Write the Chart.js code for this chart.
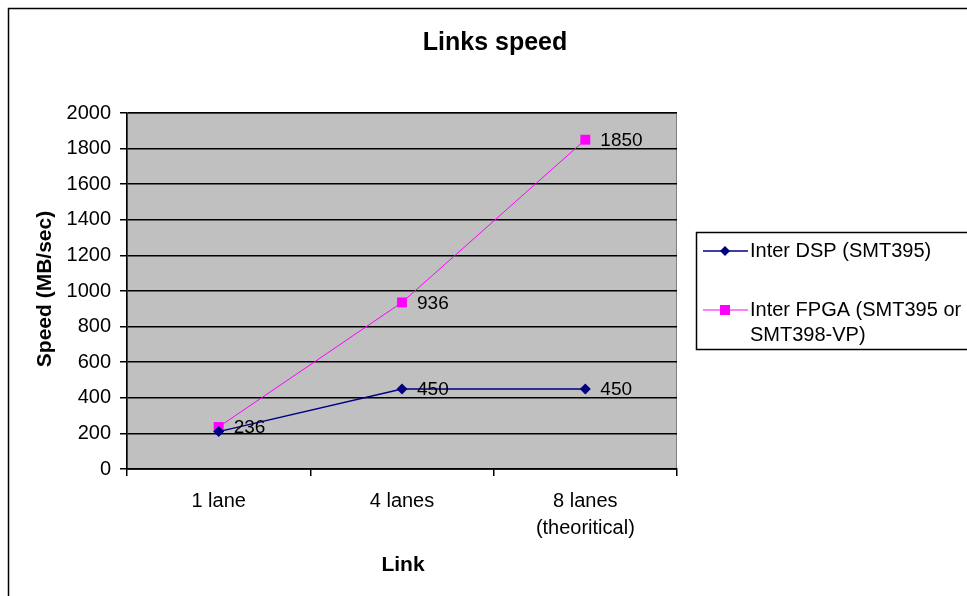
<!DOCTYPE html>
<html lang="en">
<head>
    <meta charset="UTF-8">
    <title>Links speed</title>
    <script src="https://cdn.jsdelivr.net/npm/chart.js"></script>
    <style>
        html, body { margin: 0; padding: 0; background: #fff; }
        #wrap { width: 967px; height: 596px; }
    </style>
</head>
<body>
    <div id="wrap"><canvas id="linksChart" width="967" height="596"></canvas></div>

    <script>
        const links = [["1 lane"], ["4 lanes"], ["8 lanes", "(theoritical)"]];
        const interDsp = [210, 450, 450];
        const interFpga = [236, 936, 1850];
        const seriesNames = [["Inter DSP (SMT395)"], ["Inter FPGA (SMT395 or", "SMT398-VP)"]];
        const yTicks = [0, 200, 400, 600, 800, 1000, 1200, 1400, 1600, 1800, 2000];

        const FONT = "'Liberation Sans', Arial, sans-serif";

        // grey plot area, outer frame, title and axis titles
        const excelLook = {
            id: 'excelLook',
            beforeDraw(chart) {
                const { ctx, chartArea: a } = chart;
                ctx.save();
                ctx.fillStyle = '#fff';
                ctx.fillRect(0, 0, chart.width, chart.height);
                ctx.strokeStyle = '#000';
                ctx.lineWidth = 1.5;
                ctx.strokeRect(8.5, 8.5, 1200, 1200);
                ctx.fillStyle = '#c0c0c0';
                ctx.fillRect(a.left, a.top, a.right - a.left, a.bottom - a.top);
                ctx.strokeStyle = '#808080';
                ctx.lineWidth = 1;
                ctx.strokeRect(a.left + 0.5, a.top + 0.5, a.right - a.left - 1, a.bottom - a.top);

                ctx.fillStyle = '#000';
                ctx.textAlign = 'center';
                ctx.textBaseline = 'middle';
                ctx.font = 'bold 25px ' + FONT;
                ctx.fillText('Links speed', 495, 43);
                ctx.font = 'bold 21px ' + FONT;
                ctx.fillText('Link', 403, 565);
                ctx.translate(45, 289);
                ctx.rotate(-Math.PI / 2);
                ctx.fillText('Speed (MB/sec)', 0, 0);
                ctx.restore();
            },
            afterDatasetsDraw(chart) {
                const { ctx } = chart;
                ctx.save();
                ctx.font = '19px ' + FONT;
                ctx.fillStyle = '#000';
                ctx.textAlign = 'left';
                ctx.textBaseline = 'middle';
                const drawn = [];
                for (let d = chart.data.datasets.length - 1; d >= 0; d--) {
                    const meta = chart.getDatasetMeta(d);
                    meta.data.forEach((pt, i) => {
                        const txt = String(chart.data.datasets[d].data[i]);
                        const x = pt.x + 15, y = pt.y + 1;
                        const w = ctx.measureText(txt).width;
                        const hit = drawn.some(r => x < r.x + r.w && x + w > r.x && Math.abs(y - r.y) < 16);
                        if (hit) return;
                        drawn.push({ x, y, w });
                        ctx.fillText(txt, x, y);
                    });
                }
                ctx.restore();
            },
            afterDraw(chart) {
                const { ctx } = chart;
                ctx.save();
                ctx.strokeStyle = '#000';
                ctx.lineWidth = 1.5;
                ctx.strokeRect(696.5, 232.5, 400, 117);
                ctx.font = '20px ' + FONT;
                ctx.textAlign = 'left';
                ctx.textBaseline = 'middle';
                const rows = [251, 310];
                chart.data.datasets.forEach((ds, i) => {
                    const y = rows[i];
                    ctx.strokeStyle = ds.borderColor;
                    ctx.lineWidth = ds.borderWidth;
                    ctx.beginPath();
                    ctx.moveTo(703, y);
                    ctx.lineTo(748, y);
                    ctx.stroke();
                    ctx.fillStyle = ds.pointBackgroundColor;
                    if (ds.pointStyle === 'rectRot') {
                        ctx.beginPath();
                        ctx.moveTo(725, y - 5);
                        ctx.lineTo(730, y);
                        ctx.lineTo(725, y + 5);
                        ctx.lineTo(720, y);
                        ctx.closePath();
                        ctx.fill();
                    } else {
                        ctx.fillRect(720, y - 5, 10, 10);
                    }
                    ctx.fillStyle = '#000';
                    seriesNames[i].forEach((line, k) => ctx.fillText(line, 750, y + k * 25));
                });
                ctx.restore();
            }
        };

        new Chart(document.getElementById('linksChart'), {
            type: 'line',
            data: {
                labels: links,
                datasets: [{
                    label: seriesNames[0].join(' '),
                    data: interDsp,
                    borderColor: '#000080',
                    borderWidth: 1.5,
                    pointStyle: 'rectRot',
                    pointRadius: 5.5,
                    pointBackgroundColor: '#000080',
                    pointBorderColor: '#000080',
                    pointBorderWidth: 0,
                    tension: 0
                }, {
                    label: seriesNames[1].join(' '),
                    data: interFpga,
                    borderColor: '#ff00ff',
                    borderWidth: 1,
                    pointStyle: 'rect',
                    pointRadius: 7,
                    pointBackgroundColor: '#ff00ff',
                    pointBorderColor: '#ff00ff',
                    pointBorderWidth: 0,
                    tension: 0
                }]
            },
            options: {
                responsive: false,
                animation: false,
                events: [],
                layout: { padding: { left: 0, right: 290, top: 113, bottom: 0 } },
                plugins: { legend: { display: false }, title: { display: false }, tooltip: { enabled: false } },
                scales: {
                    x: {
                        offset: true,
                        afterFit: s => { s.height = 127; },
                        grid: { offset: true, drawOnChartArea: false, drawTicks: true, tickLength: 7, color: '#000', lineWidth: 1.5 },
                        border: { color: '#000', width: 1.5 },
                        ticks: { color: '#000', padding: 12, font: { family: FONT, size: 20, lineHeight: 1.35 }, maxRotation: 0 }
                    },
                    y: {
                        min: 0,
                        max: 2000,
                        afterFit: s => { s.width = 127; },
                        afterBuildTicks: s => { s.ticks = yTicks.map(v => ({ value: v })); },
                        grid: { color: '#000', lineWidth: 1.5, tickLength: 7 },
                        border: { color: '#000', width: 1.5 },
                        ticks: { color: '#000', padding: 9, font: { family: FONT, size: 20 }, callback: v => String(v) }
                    }
                }
            },
            plugins: [excelLook]
        });
    </script>
</body>
</html>
